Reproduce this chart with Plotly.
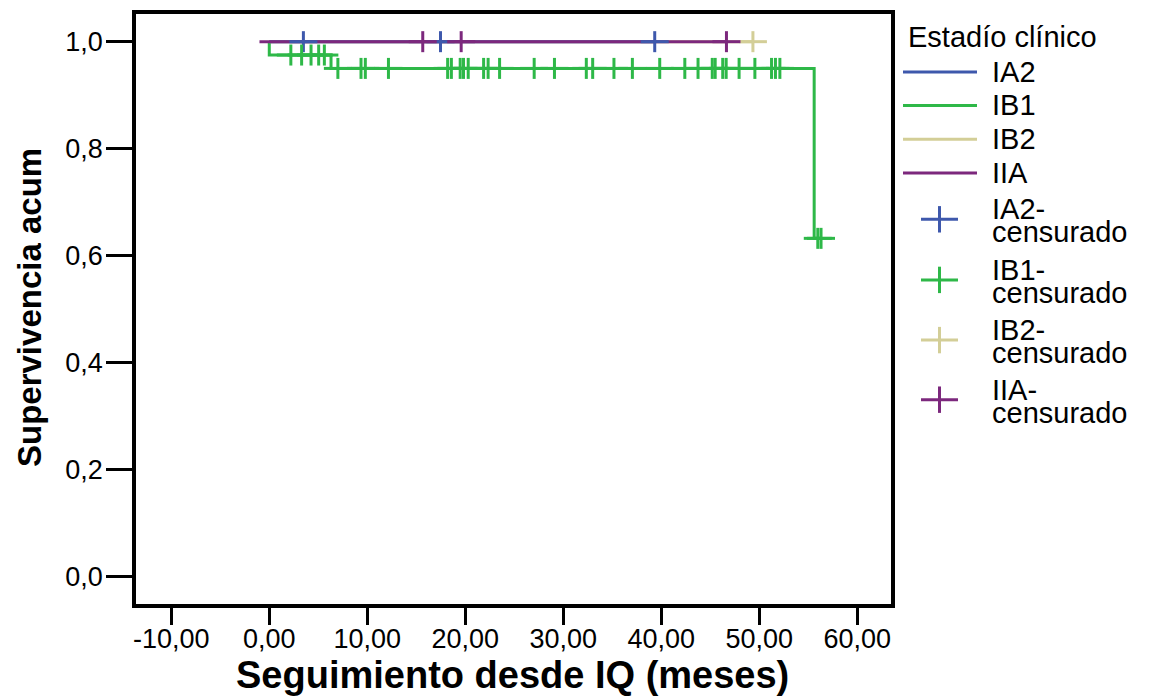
import plotly.graph_objects as go

# ---------------- data ----------------
x_tickvals = [-10, 0, 10, 20, 30, 40, 50, 60]
x_ticktext = ["-10,00", "0,00", "10,00", "20,00", "30,00", "40,00", "50,00", "60,00"]
y_tickvals = [0.0, 0.2, 0.4, 0.6, 0.8, 1.0]
y_ticktext = ["0,0", "0,2", "0,4", "0,6", "0,8", "1,0"]

groups = ["IA2", "IB1", "IB2", "IIA"]
group_colors = ["#3E58AC", "#2EB848", "#D3CE97", "#7C287D"]

# IA2 (no events)
ia2_start = 0.0
ia2_event_times = []
ia2_event_surv = []
ia2_censored = [3.48, 17.47, 39.33]

# IB1
ib1_start = 0.0
ib1_event_times = [0.0, 6.3, 55.6]
ib1_event_surv = [0.975, 0.95, 0.632]
ib1_censored = [2.2, 3.3, 4.26, 5.04, 5.62,
                7.0, 9.36, 9.8, 12.16, 18.2, 18.58, 19.48, 19.82, 20.3, 21.87,
                22.33, 23.5, 27.03, 29.1, 32.35, 33.0, 35.17, 37.05, 39.84,
                42.4, 43.75, 45.2, 45.5, 46.27, 46.62, 47.94, 49.55, 51.25,
                51.65, 52.1, 55.97, 56.3]

# IB2 (no events)
ib2_start = 0.0
ib2_event_times = []
ib2_event_surv = []
ib2_censored = [49.35]

# IIA (no events)
iia_start = -1.0
iia_event_times = []
iia_event_surv = []
iia_censored = [15.66, 19.58, 46.65]

series = {
    "IA2": (ia2_start, ia2_event_times, ia2_event_surv, ia2_censored),
    "IB1": (ib1_start, ib1_event_times, ib1_event_surv, ib1_censored),
    "IB2": (ib2_start, ib2_event_times, ib2_event_surv, ib2_censored),
    "IIA": (iia_start, iia_event_times, iia_event_surv, iia_censored),
}
color_of = dict(zip(groups, group_colors))

legend_title = "Estadío clínico"
x_title = "Seguimiento desde IQ (meses)"
y_title = "Supervivencia acum"


def km_path(start, ev_t, ev_s, cens):
    end = max(list(cens) + list(ev_t))
    xs, ys = [start], [1.0]
    for t, s in zip(ev_t, ev_s):
        xs.append(t)
        ys.append(s)
    xs.append(end)
    ys.append(ys[-1])
    return xs, ys


def surv_at(t, ev_t, ev_s):
    s = 1.0
    for et, es in zip(ev_t, ev_s):
        if et <= t:
            s = es
    return s


# ---------------- layout geometry ----------------
W_FIG, H_FIG = 1149, 697
L, R, T, B = 136, 258, 10, 93
PW = W_FIG - L - R
PH = H_FIG - T - B


def px(xp):
    return (xp - L) / PW


def py(yp):
    return (T + PH - yp) / PH


FONT = "Liberation Sans, Arial, sans-serif"

fig = go.Figure()

# step lines (purple drawn last so it sits on top)
for g in ["IB1", "IB2", "IA2", "IIA"]:
    start, et, es, cens = series[g]
    xs, ys = km_path(start, et, es, cens)
    fig.add_trace(go.Scatter(
        x=xs, y=ys, mode="lines", line=dict(color=color_of[g], width=3, shape="hv"),
        showlegend=False, hoverinfo="skip"))

# censor marks (cross: wider than tall)
for g in groups:
    start, et, es, cens = series[g]
    cy = [surv_at(t, et, es) for t in cens]
    for sym, size in (("line-ew", 20), ("line-ns", 15)):
        fig.add_trace(go.Scatter(
            x=cens, y=cy, mode="markers",
            marker=dict(symbol=sym, size=size, line=dict(color=color_of[g], width=3)),
            showlegend=False, hoverinfo="skip"))

shapes = []
annotations = []

# custom legend
LEG_FS = 29
annotations.append(dict(x=px(906), y=py(33), xref="paper", yref="paper", text=legend_title,
                        showarrow=False, xanchor="left", yanchor="middle",
                        font=dict(family=FONT, size=LEG_FS, color="black")))
line_rows = [68.5, 102, 136, 170]
for g, yr in zip(groups, line_rows):
    shapes.append(dict(type="line", xref="paper", yref="paper", x0=px(903), x1=px(977),
                       y0=py(yr), y1=py(yr), line=dict(color=color_of[g], width=3)))
    annotations.append(dict(x=px(990), y=py(yr), xref="paper", yref="paper", text=g,
                            showarrow=False, xanchor="left", yanchor="middle",
                            font=dict(family=FONT, size=LEG_FS, color="black")))
cross_rows = [216.7, 277.7, 338.3, 398.3]
for g, yc in zip(groups, cross_rows):
    c = color_of[g]
    shapes.append(dict(type="line", xref="paper", yref="paper", x0=px(921), x1=px(958),
                       y0=py(yc), y1=py(yc), line=dict(color=c, width=3)))
    shapes.append(dict(type="line", xref="paper", yref="paper", x0=px(939.5), x1=px(939.5),
                       y0=py(yc - 13.3), y1=py(yc + 13.3), line=dict(color=c, width=3)))
    annotations.append(dict(x=px(990), y=py(yc - 10), xref="paper", yref="paper", text=g + "-",
                            showarrow=False, xanchor="left", yanchor="middle",
                            font=dict(family=FONT, size=LEG_FS, color="black")))
    annotations.append(dict(x=px(990), y=py(yc + 13), xref="paper", yref="paper", text="censurado",
                            showarrow=False, xanchor="left", yanchor="middle",
                            font=dict(family=FONT, size=LEG_FS, color="black")))

# axis titles
annotations.append(dict(x=px(512), y=py(675), xref="paper", yref="paper", text="<b>" + x_title + "</b>",
                        showarrow=False, xanchor="center", yanchor="middle",
                        font=dict(family=FONT, size=38, color="black")))
annotations.append(dict(x=px(29), y=py(306), xref="paper", yref="paper", text="<b>" + y_title + "</b>",
                        showarrow=False, xanchor="center", yanchor="middle", textangle=-90,
                        font=dict(family=FONT, size=33, color="black")))

fig.update_layout(
    width=W_FIG, height=H_FIG,
    margin=dict(l=L, r=R, t=T, b=B, pad=0),
    paper_bgcolor="white", plot_bgcolor="white",
    showlegend=False,
    shapes=shapes, annotations=annotations,
    xaxis=dict(range=[-13.6, 63.44], tickvals=x_tickvals, ticktext=x_ticktext,
               ticks="outside", ticklen=17, tickwidth=3, tickcolor="black",
               ticklabelstandoff=-9,
               showline=True, linewidth=3.5, linecolor="black", mirror=True,
               showgrid=False, zeroline=False,
               tickfont=dict(family=FONT, size=27, color="black")),
    yaxis=dict(range=[-0.0522, 1.0518], tickvals=y_tickvals, ticktext=y_ticktext,
               ticks="outside", ticklen=26, tickwidth=3, tickcolor="black",
               ticklabelstandoff=-2,
               showline=True, linewidth=3.5, linecolor="black", mirror=True,
               showgrid=False, zeroline=False,
               tickfont=dict(family=FONT, size=27, color="black")),
)

fig.write_html("out.html")
